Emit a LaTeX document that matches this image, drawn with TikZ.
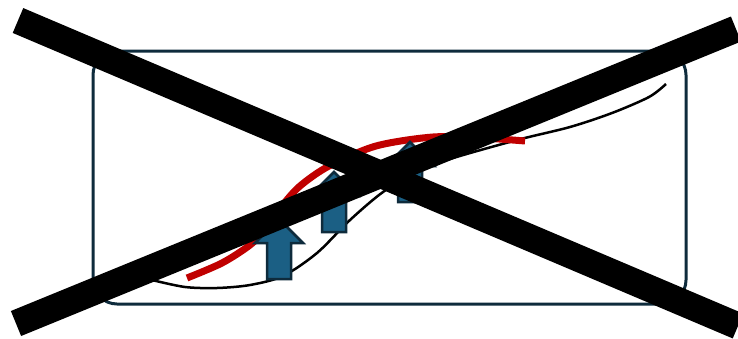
\documentclass[tikz,border=0pt]{standalone}
\usepackage{tikz}
\usetikzlibrary{calc}
\definecolor{frame}{HTML}{0E2B3C}
\definecolor{pulse}{HTML}{C00000}
\definecolor{lift}{HTML}{1B5F84}
\definecolor{ink}{HTML}{000000}

\begin{document}
\begin{tikzpicture}[x=1pt, y=-1pt]
\useasboundingbox (0,0) rectangle (738,338);
\clip (0,0) rectangle (738,338);
\draw[frame, line width=3pt, rounded corners=24pt] (93,51) rectangle (686,304);
\draw[ink, line width=2.5pt] plot[smooth] coordinates {(152,280) (185,287) (217,288) (250,285) (283,276) (317,253) (350,220) (383,192) (417,172) (450,159) (517,140) (570,127) (612,113) (649,97) (666,84)};
\draw[pulse, line width=7pt] plot[smooth] coordinates {(187,278) (222,263) (250,245) (268,227) (282,206) (300,186) (329,166) (376,146) (433,137) (483,138) (525,141)};
\foreach \cx/\by in {279/279, 334/232, 410/202}
  \draw[fill=lift, draw=frame, line width=2.5pt] (\cx-12,\by) -- (\cx+12,\by) -- (\cx+12,\by-36) -- (\cx+24,\by-36) -- (\cx,\by-60) -- (\cx-24,\by-36) -- (\cx-12,\by-36) -- cycle;
\draw[ink, line width=27pt] (18,20.5) -- (738,326);
\draw[ink, line width=27pt] (16,323.5) -- (736,29);
\end{tikzpicture}
\end{document}
